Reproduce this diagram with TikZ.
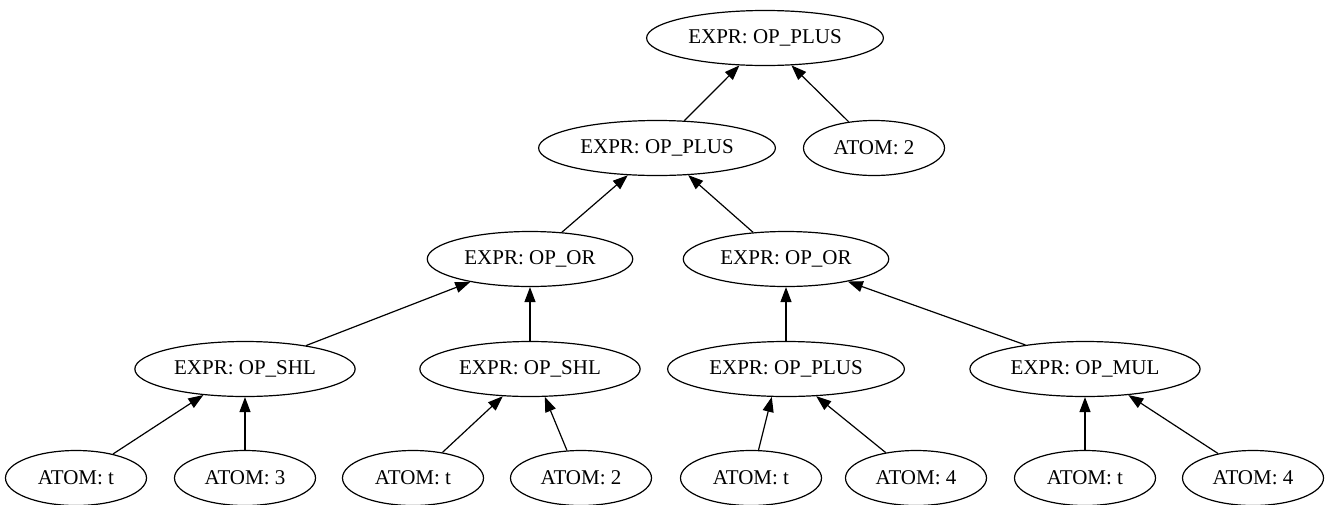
\documentclass[tikz,border=0pt]{standalone}
\usepackage{fontspec}
\setmainfont{Liberation Serif}
\usetikzlibrary{shapes.geometric,arrows.meta}

\begin{document}
\begin{tikzpicture}
  [x=1pt,y=-1pt,
   every node/.style={ellipse,draw,line width=1.2pt,inner xsep=7pt,
     minimum height=55pt,font=\fontsize{21}{25}\selectfont},
   atom/.style={minimum width=141pt},
   edge/.style={line width=1.2pt,-{Triangle[length=15pt,width=11pt]}}]
  \useasboundingbox (0,0) rectangle (1327,504);

  \node (root) at (765,38) {EXPR: OP\_PLUS};
  \node (plus1) at (657,148) {EXPR: OP\_PLUS};
  \node[atom] (two1) at (874,148) {ATOM: 2};
  \node (or1) at (530,259) {EXPR: OP\_OR};
  \node (or2) at (786,259) {EXPR: OP\_OR};
  \node (shl1) at (245,369) {EXPR: OP\_SHL};
  \node (shl2) at (530,369) {EXPR: OP\_SHL};
  \node (plus2) at (786,369) {EXPR: OP\_PLUS};
  \node (mul1) at (1085,369) {EXPR: OP\_MUL};
  \node[atom] (t1) at (76,478) {ATOM: t};
  \node[atom] (three) at (245,478) {ATOM: 3};
  \node[atom] (t2) at (413,478) {ATOM: t};
  \node[atom] (two2) at (581,478) {ATOM: 2};
  \node[atom] (t3) at (751,478) {ATOM: t};
  \node[atom] (four1) at (916,478) {ATOM: 4};
  \node[atom] (t4) at (1085,478) {ATOM: t};
  \node[atom] (four2) at (1253,478) {ATOM: 4};

  \draw[edge] (plus1.45) -- (root.227);
  \draw[edge] (two1.134) -- (root.314);
  \draw[edge] (or1.40) -- (plus1.223);
  \draw[edge] (or2.141) -- (plus1.319);
  \draw[edge] (shl1.21) -- (or1.201);
  \draw[edge] (shl2.north) -- (or1.south);
  \draw[edge] (plus2.north) -- (or2.south);
  \draw[edge] (mul1.158) -- (or2.340);
  \draw[edge] (t1.33) -- (shl1.212);
  \draw[edge] (three.north) -- (shl1.south);
  \draw[edge] (t2.41) -- (shl2.225);
  \draw[edge] (two2.117) -- (shl2.298);
  \draw[edge] (t3.75) -- (plus2.243);
  \draw[edge] (four1.140) -- (plus2.318);
  \draw[edge] (t4.north) -- (mul1.south);
  \draw[edge] (four2.145) -- (mul1.329);
\end{tikzpicture}
\end{document}
